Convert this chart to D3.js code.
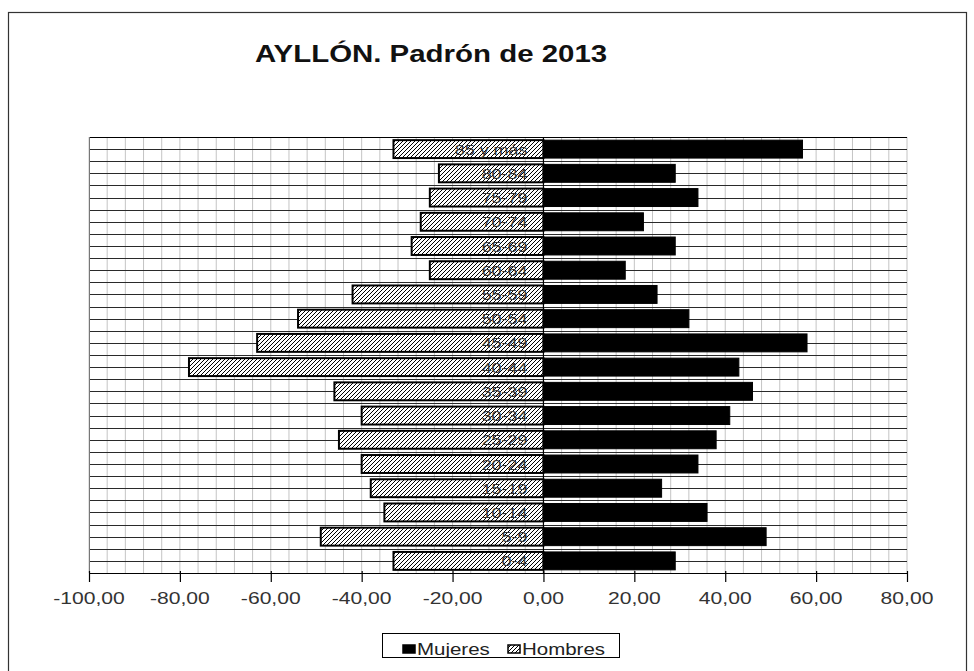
<!DOCTYPE html>
<html>
<head>
<meta charset="utf-8">
<script src="https://cdn.jsdelivr.net/npm/d3@7"></script>
<style>
  html, body { margin: 0; padding: 0; background: #fff; }
  svg { display: block; font-family: "Liberation Sans", Arial, sans-serif; }
</style>
</head>
<body>
<svg id="chart" width="974" height="671"></svg>
<script>
const title = "AYLLÓN. Padrón de 2013";
const categories = ["0-4","5-9","10-14","15-19","20-24","25-29","30-34","35-39","40-44","45-49","50-54","55-59","60-64","65-69","70-74","75-79","80-84","85 y más"];
const hombres = [33,49,35,38,40,45,40,46,78,63,54,42,25,29,27,25,23,33];
const mujeres = [29,49,36,26,34,38,41,46,43,58,32,25,18,29,22,34,29,57];
const tickValues = [-100,-80,-60,-40,-20,0,20,40,60,80];
const seriesNames = ["Mujeres","Hombres"];

const SX = 1.28; // horizontal text stretch of the original rendering
const svg = d3.select("#chart");

const defs = svg.append("defs");
const pat = defs.append("pattern").attr("id","hatch").attr("patternUnits","userSpaceOnUse")
  .attr("width",4).attr("height",4);
pat.append("rect").attr("width",4).attr("height",4).attr("fill","#fff");
pat.append("path").attr("d","M-1,1 l2,-2 M0,4 l4,-4 M3,5 l2,-2")
  .attr("stroke","#000").attr("stroke-width",1);

// outer frame
svg.append("rect").attr("x",8.5).attr("y",12.5).attr("width",958).attr("height",680)
  .attr("fill","none").attr("stroke","#333").attr("stroke-width",1.2);

const x = d3.scaleLinear().domain([-100,80]).range([89,907]);
const y = d3.scaleBand().domain(categories.slice().reverse()).range([137,573])
  .paddingInner(0.26).paddingOuter(0.13);
const half = d3.scaleLinear().domain([0, categories.length*2]).range([137,573]);

function stretchText(sel, px, py, anchor) {
  return sel.attr("transform", `translate(${px},${py}) scale(${SX},1)`)
    .attr("text-anchor", anchor);
}

// title
stretchText(svg.append("text").text(title), 255, 62, "start")
  .attr("font-size",23).attr("font-weight","bold").attr("fill","#111");

const g = svg.append("g");

// vertical light gridlines every 4 units
g.selectAll("line.vg").data(d3.range(-100, 81, 4)).join("line")
  .attr("class","vg")
  .attr("x1",d=>x(d)).attr("x2",d=>x(d))
  .attr("y1",137).attr("y2",573)
  .attr("stroke","#c4c4c4").attr("stroke-width",1);

// horizontal lines at band edges and centres
g.selectAll("line.hg").data(d3.range(0, categories.length*2)).join("line")
  .attr("class","hg")
  .attr("x1",x(-100)).attr("x2",x(80))
  .attr("y1",d=>Math.round(half(d))+0.5).attr("y2",d=>Math.round(half(d))+0.5)
  .attr("stroke",d=>d===0?"#000":"#2a2a2a").attr("stroke-width",1);

// plot frame edges
g.append("line").attr("x1",x(-100)+0.5).attr("x2",x(-100)+0.5).attr("y1",137).attr("y2",573)
  .attr("stroke","#777");

// bars: Hombres (left, hatched)
g.selectAll("rect.h").data(categories).join("rect")
  .attr("class","h")
  .attr("x",(d,i)=>x(-hombres[i]))
  .attr("width",(d,i)=>x(0)-x(-hombres[i]))
  .attr("y",d=>y(d)).attr("height",y.bandwidth())
  .attr("fill","url(#hatch)").attr("stroke","#000").attr("stroke-width",2);

// bars: Mujeres (right, black)
g.selectAll("rect.m").data(categories).join("rect")
  .attr("class","m")
  .attr("x",x(0))
  .attr("width",(d,i)=>x(mujeres[i])-x(0))
  .attr("y",d=>y(d)).attr("height",y.bandwidth())
  .attr("fill","#000").attr("stroke","#000").attr("stroke-width",1);

// zero axis
g.append("line").attr("x1",x(0)).attr("x2",x(0)).attr("y1",137).attr("y2",573)
  .attr("stroke","#000").attr("stroke-width",1.2);

// category labels
g.selectAll("text.cat").data(categories).join("text")
  .attr("class","cat")
  .each(function(d){
    stretchText(d3.select(this), x(0)-16, y(d)+y.bandwidth()/2+5.5, "end");
  })
  .attr("font-size",14).attr("fill","#333").text(d=>d);

// bottom axis
const fmt = v => d3.format(".2f")(v).replace(".", ",").replace("−","-");
const axis = d3.axisBottom(x).tickValues(tickValues).tickSize(9).tickSizeOuter(0).tickFormat("");
const ax = svg.append("g").attr("transform","translate(0,573)").call(axis);
ax.select(".domain").attr("stroke","#000").attr("stroke-width",1.2);
ax.selectAll(".tick line").attr("stroke","#000").attr("stroke-width",1.2).attr("y1",-2);

svg.selectAll("text.tl").data(tickValues).join("text")
  .attr("class","tl")
  .each(function(d){ stretchText(d3.select(this), x(d), 604, "middle"); })
  .attr("font-size",16.5).attr("fill","#333").text(d=>fmt(d));

// legend
const lg = svg.append("g");
lg.append("rect").attr("x",382.5).attr("y",633.5).attr("width",237).attr("height",24)
  .attr("fill","#fff").attr("stroke","#000").attr("stroke-width",1);
const legendItems = [
  {name: seriesNames[0], fill:"#000", mx:403, tx:417},
  {name: seriesNames[1], fill:"url(#hatch)", mx:508, tx:522}
];
legendItems.forEach(it=>{
  lg.append("rect").attr("x",it.mx).attr("y",645).attr("width",12).attr("height",8)
    .attr("fill",it.fill).attr("stroke","#000").attr("stroke-width",1.5);
  stretchText(lg.append("text").text(it.name), it.tx, 655, "start")
    .attr("font-size",16).attr("fill","#222");
});
</script>
</body>
</html>
